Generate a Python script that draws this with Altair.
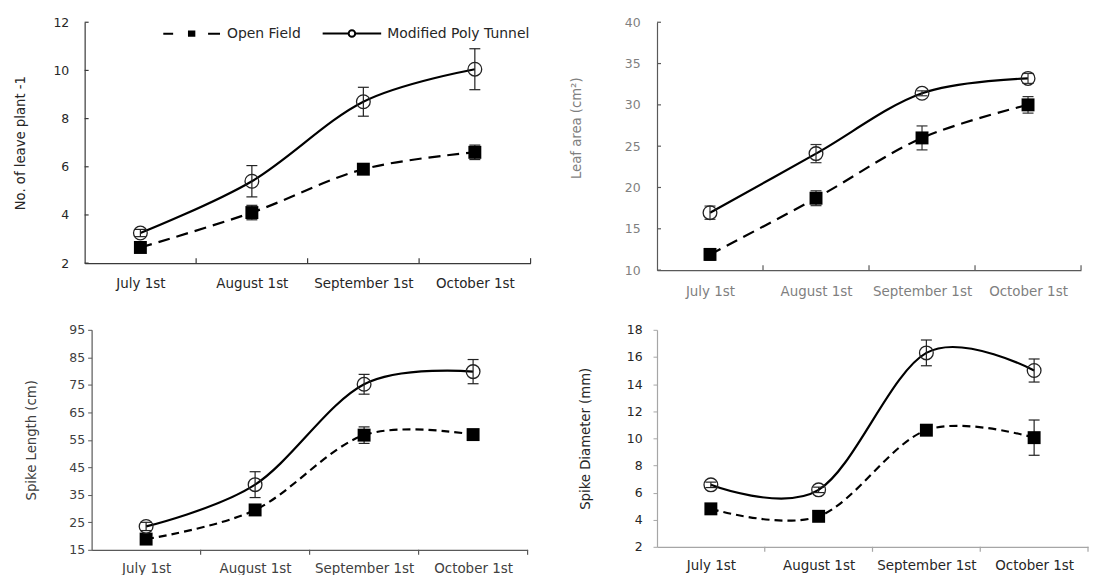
import altair as alt
import pandas as pd

# ---------------- data ----------------
dates = ["July 1st", "August 1st", "September 1st", "October 1st"]
series_names = ["Open Field", "Modified Poly Tunnel"]

leaves_open = [2.65, 4.1, 5.9, 6.6]
leaves_open_err = [0.12, 0.3, 0.12, 0.3]
leaves_mpt = [3.25, 5.4, 8.7, 10.05]
leaves_mpt_err = [0.15, 0.65, 0.6, 0.85]

area_open = [11.9, 18.7, 26.0, 30.0]
area_open_err = [0.7, 0.9, 1.45, 1.0]
area_mpt = [16.95, 24.1, 31.4, 33.2]
area_mpt_err = [0.8, 1.1, 0.3, 0.6]

length_open = [18.9, 29.5, 56.7, 56.9]
length_open_err = [1.0, 1.5, 3.0, 1.5]
length_mpt = [23.5, 38.7, 75.2, 79.8]
length_mpt_err = [1.5, 4.7, 3.6, 4.4]

diam_open = [4.8, 4.25, 10.6, 10.05]
diam_open_err = [0.15, 0.2, 0.2, 1.3]
diam_mpt = [6.57, 6.2, 16.3, 15.0]
diam_mpt_err = [0.2, 0.2, 0.95, 0.85]

y_ticks_leaves = [2, 4, 6, 8, 10, 12]
y_ticks_area = [10, 15, 20, 25, 30, 35, 40]
y_ticks_length = [15, 25, 35, 45, 55, 65, 75, 85, 95]
y_ticks_diam = [2, 4, 6, 8, 10, 12, 14, 16, 18]

FONT = "DejaVu Sans"

LEGEND_PATHS = [
    "M-4.75,0H-3.1M-0.45,-0.35H0.45V0.35H-0.45ZM2.75,0H4.75",
    "M-4.9,0H-0.55M0.55,0H4.9M0.55,0A0.55,0.55,0,1,1,-0.55,0A0.55,0.55,0,1,1,0.55,0",
]


def panel_df(open_v, open_e, mpt_v, mpt_e):
    rows = []
    for name, vals, errs in ((series_names[0], open_v, open_e), (series_names[1], mpt_v, mpt_e)):
        for i, d in enumerate(dates):
            rows.append(dict(idx=i, date=d, series=name, value=vals[i],
                             lo=vals[i] - errs[i], hi=vals[i] + errs[i]))
    return pd.DataFrame(rows)


def make_panel(df, title, ydomain, yticks, width, height, st, legend=False):
    shift = st.get("shift", 0)
    xs = alt.Scale(domain=[-0.5, len(dates) - 0.5], nice=False, zero=False,
                   range=[shift, shift + st.get("span", width)])
    ys = alt.Scale(domain=ydomain, nice=False, zero=False)
    label_expr = "[" + ",".join("'%s'" % d for d in dates) + "][datum.value]"
    xaxis = alt.Axis(values=list(range(len(dates))), labelExpr=label_expr, ticks=False,
                     title=None, grid=False, domainColor=st["axis"], domainWidth=1.2,
                     labelFont=FONT, labelFontSize=13.5, labelColor=st["label"],
                     labelPadding=st["xlp"], labelFlush=False, labelOverlap=False)
    ykw = dict(values=yticks, title=title, grid=False, ticks=st["out"], tickSize=4,
               tickColor=st["axis"], domainColor=st["axis"], domainWidth=1.2,
               labelFont=FONT, labelFontSize=12.5, labelColor=st["label"],
               labelPadding=st["ylp"], titlePadding=st["tp"], titleFont=FONT,
               titleFontSize=13.3, titleFontWeight="normal", titleColor=st["label"])
    if shift:
        ykw["offset"] = -shift
    if "titleXY" in st:
        ykw["titleX"] = st["titleXY"][0]
        ykw["titleY"] = st["titleXY"][1]
        ykw["titleBaseline"] = "bottom"
        ykw["titleAngle"] = 270
    yaxis = alt.Axis(**ykw)

    def X(f):
        return alt.X(f, scale=xs, axis=xaxis)

    def Y(f):
        return alt.Y(f, scale=ys, axis=yaxis)

    base = alt.Chart(df)
    is_open = alt.datum.series == series_names[0]
    is_mpt = alt.datum.series == series_names[1]

    open_line = base.transform_filter(is_open).mark_line(
        interpolate="cardinal", color="black", strokeWidth=2.2, strokeDash=st["dash"]
    ).encode(x=X("idx:Q"), y=Y("value:Q"))
    mpt_line = base.transform_filter(is_mpt).mark_line(
        interpolate="cardinal", color="black", strokeWidth=2.2
    ).encode(x=X("idx:Q"), y=Y("value:Q"))
    err_rule = base.mark_rule(color=st["err"], strokeWidth=1.2).encode(
        x=X("idx:Q"), y=Y("lo:Q"), y2="hi:Q")
    cap_lo = base.mark_tick(orient="horizontal", color=st["err"], size=11, thickness=1.2, opacity=1).encode(
        x=X("idx:Q"), y=Y("lo:Q"))
    cap_hi = base.mark_tick(orient="horizontal", color=st["err"], size=11, thickness=1.2, opacity=1).encode(
        x=X("idx:Q"), y=Y("hi:Q"))
    sq = base.transform_filter(is_open).mark_point(
        shape="square", filled=True, color="black", size=169, opacity=1
    ).encode(x=X("idx:Q"), y=Y("value:Q"))
    circ = base.transform_filter(is_mpt).mark_point(
        shape="circle", filled=False, color="#222222", strokeWidth=1.3, size=190, opacity=1
    ).encode(x=X("idx:Q"), y=Y("value:Q"))

    bounds = pd.DataFrame({"b": [i + 0.5 for i in range(len(dates))]})
    tick_df = pd.DataFrame({"t": yticks})
    if st["out"]:
        xt = alt.Chart(bounds).mark_rule(color=st["axis"], strokeWidth=1.2).encode(
            x=X("b:Q"), y=alt.value(height), y2=alt.value(height + 5))
        extra = [xt]
    else:
        xt = alt.Chart(bounds).mark_rule(color=st["axis"], strokeWidth=1.2).encode(
            x=X("b:Q"), y=alt.value(height - 5), y2=alt.value(height))
        yt = alt.Chart(tick_df).mark_rule(color=st["axis"], strokeWidth=1.2).encode(
            y=Y("t:Q"), x=alt.value(0), x2=alt.value(4))
        extra = [xt, yt]

    layers = [open_line, mpt_line, err_rule, cap_lo, cap_hi, sq, circ] + extra

    if legend:
        leg = alt.Legend(orient="none", legendX=100.5, legendY=4, direction="horizontal",
                         title=None, labelFont=FONT, labelFontSize=14, labelColor="#262626",
                         labelOffset=28.5, columnPadding=17, symbolSize=144,
                         symbolStrokeWidth=2, symbolOpacity=1,
                         padding=0, labelLimit=300)
        leg_df = pd.DataFrame({"series": series_names, "idx": [0, 0],
                               "value": [ydomain[0] - 100, ydomain[0] - 100]})
        leg_layer = alt.Chart(leg_df).mark_point(
            filled=True, clip=True, stroke="black", strokeWidth=2, opacity=1
        ).encode(
            x=X("idx:Q"),
            y=Y("value:Q"),
            shape=alt.Shape("series:N", scale=alt.Scale(domain=series_names, range=LEGEND_PATHS), legend=leg),
            fill=alt.Fill("series:N", scale=alt.Scale(domain=series_names, range=["black", "white"]), legend=leg),
        )
        layers.append(leg_layer)

    return alt.layer(*layers).properties(width=width, height=height)


st1 = dict(axis="#3a3a3a", label="#262626", err="#222222", xlp=13, ylp=16, tp=25.5, out=False, dash=[12, 7])
st2 = dict(axis="#595959", label="#7f7f7f", err="#333333", xlp=15, ylp=17, tp=43.5, out=False, dash=[12, 7],
           titleXY=(-74, 106))
st3 = dict(axis="#595959", label="#404040", err="#222222", xlp=12, ylp=3, tp=30, out=True, dash=[8, 5],
           shift=7, span=438)
st4 = dict(axis="#a6a6a6", label="#262626", err="#222222", xlp=12, ylp=11, tp=34, out=True, dash=[8, 5])

p1 = make_panel(panel_df(leaves_open, leaves_open_err, leaves_mpt, leaves_mpt_err),
                "No. of leave plant -1", [2, 12], y_ticks_leaves, 448, 242, st1, legend=True)
p2 = make_panel(panel_df(area_open, area_open_err, area_mpt, area_mpt_err),
                "Leaf area (cm²)", [10, 40], y_ticks_area, 426, 249, st2)
p3 = make_panel(panel_df(length_open, length_open_err, length_mpt, length_mpt_err),
                "Spike Length (cm)", [15, 95], y_ticks_length, 438, 221, st3)
p4 = make_panel(panel_df(diam_open, diam_open_err, diam_mpt, diam_mpt_err),
                "Spike Diameter (mm)", [2, 18], y_ticks_diam, 433, 218, st4)

chart = alt.concat(p1, p2, p3, p4, columns=2, spacing={"row": 60, "column": 127},
                   bounds="flush", align={"row": "all", "column": "none"}).properties(
    padding={"left": 5, "top": 7, "right": 0, "bottom": 0}).configure_view(stroke=None)

chart.save("out.html", embed_options={"renderer": "svg", "actions": False})
